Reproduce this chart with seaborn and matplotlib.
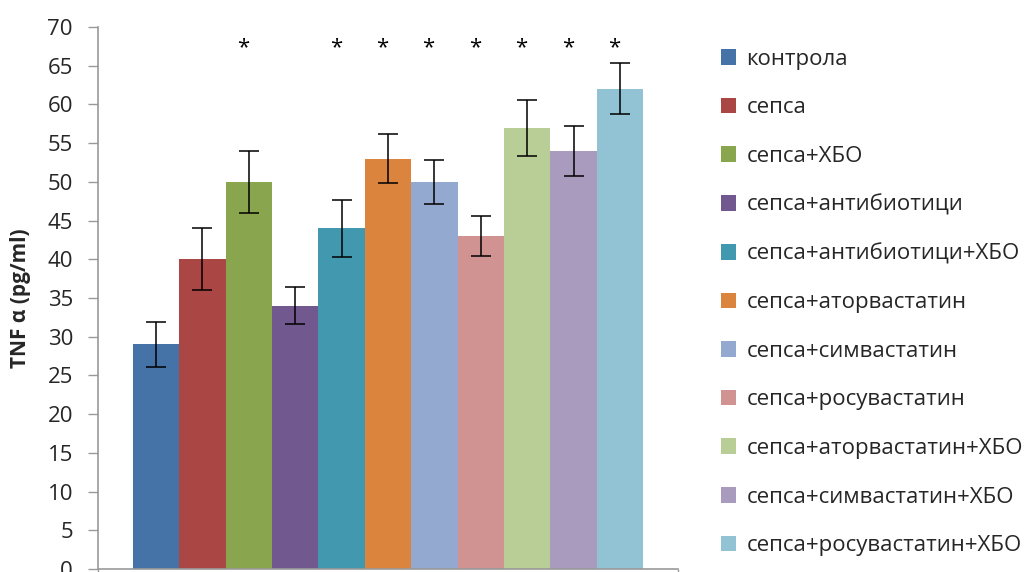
import matplotlib
matplotlib.use("Agg")
import matplotlib.pyplot as plt
import seaborn as sns
import pandas as pd
from matplotlib.patches import Patch

groups = ["контрола", "сепса", "сепса+ХБО", "сепса+антибиотици",
          "сепса+антибиотици+ХБО", "сепса+аторвастатин", "сепса+симвастатин",
          "сепса+росувастатин", "сепса+аторвастатин+ХБО",
          "сепса+симвастатин+ХБО", "сепса+росувастатин+ХБО"]
values = [29, 40, 50, 34, 44, 53, 50, 43, 57, 54, 62]
errors = [2.9, 4.0, 4.0, 2.4, 3.7, 3.2, 2.8, 2.6, 3.6, 3.2, 3.3]
significant = [False, False, True, False, True, True, True, True, True, True, True]
colors = ["#4572A7", "#AA4643", "#89A54E", "#71588F", "#4198AF", "#DB843D",
          "#93A9CF", "#D19392", "#B9CD96", "#A99BBD", "#92C3D5"]
yticks = list(range(0, 75, 5))

sns.set_theme(style="white")
plt.rcParams["font.family"] = ["Open Sans", "DejaVu Sans"]

df = pd.DataFrame({"cat": [""] * len(groups), "group": groups, "value": values})

fig = plt.figure(figsize=(10.3, 5.72), dpi=100)
ax = fig.add_axes([98 / 1030, 3 / 572, 580 / 1030, 542 / 572])

sns.barplot(data=df, x="cat", y="value", hue="group", hue_order=groups,
            palette=colors, width=0.88, errorbar=None, ax=ax,
            saturation=1, linewidth=0, legend=False)

patches = [p for p in ax.patches][:len(groups)]
centers = [p.get_x() + p.get_width() / 2 for p in patches]
ax.errorbar(centers, values, yerr=errors, fmt="none", ecolor="black",
            elinewidth=1.1, capsize=7, capthick=1.1, zorder=5)
for c, s in zip(centers, significant):
    if s:
        ax.text(c - 0.01, 67.3, "*", ha="center", va="center", fontsize=16,
                color="black")

ax.set_xlim(-0.5, 0.5)
ax.set_ylim(0, 70)
ax.set_yticks(yticks)
ax.set_yticklabels([str(t) for t in yticks], fontsize=16, color="#262626")
ax.set_xticks([-0.5, 0.5])
ax.set_xticklabels(["", ""])
ax.set_xlabel("")
ax.set_ylabel("TNF α (pg/ml)", fontsize=15, fontweight="bold", labelpad=12)
ax.tick_params(axis="y", direction="out", length=7, width=1, color="#999999",
               pad=11, left=True)
ax.tick_params(axis="x", direction="out", length=5, width=1, color="#999999",
               bottom=True)
for side in ["top", "right"]:
    ax.spines[side].set_visible(False)
for side in ["left", "bottom"]:
    ax.spines[side].set_color("#999999")
    ax.spines[side].set_linewidth(1.2)

handles = [Patch(facecolor=c, edgecolor="none") for c in colors]
fig.legend(handles, groups, loc="upper left", bbox_to_anchor=(712 / 1030, 1 - 40 / 572),
           frameon=False, fontsize=16, handlelength=0.7, handleheight=0.7,
           handletextpad=0.45, labelspacing=1.24, borderaxespad=0,
           labelcolor="#262626")

fig.savefig("out.png", dpi=100)
